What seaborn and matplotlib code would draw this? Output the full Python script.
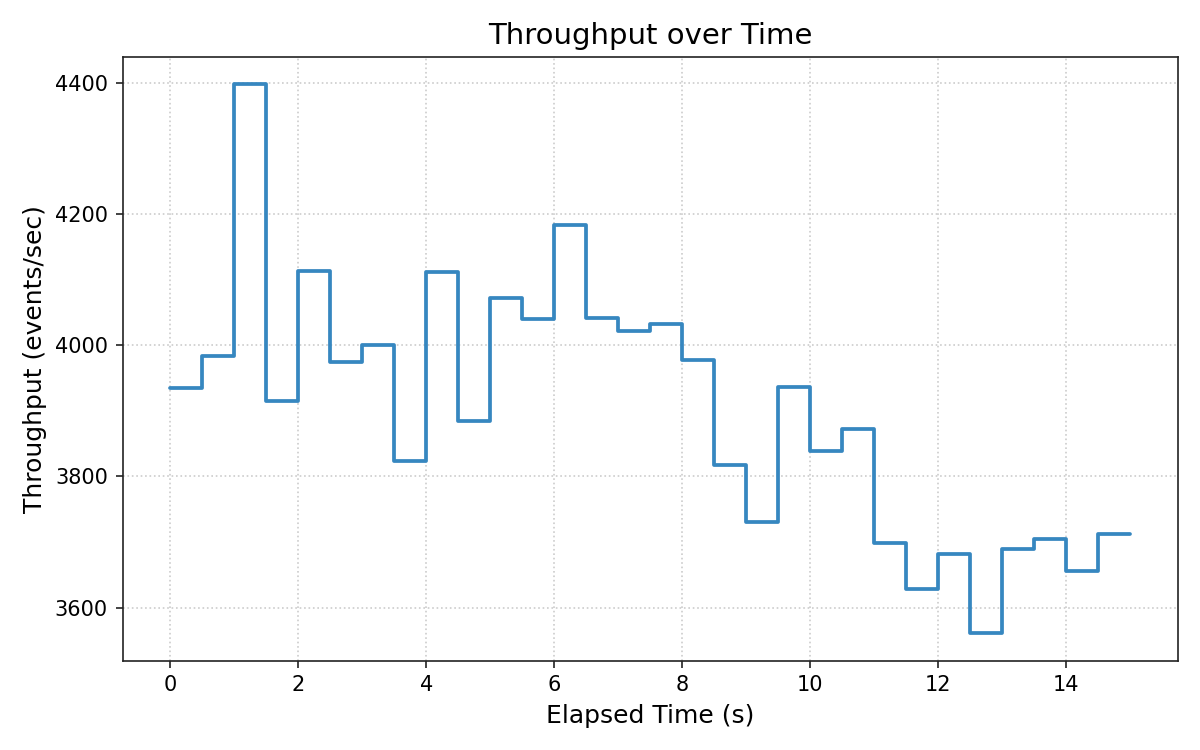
import matplotlib
matplotlib.use("Agg")
import matplotlib.pyplot as plt
import seaborn as sns
import pandas as pd

elapsed_time = [0.0, 0.5, 1.0, 1.5, 2.0, 2.5, 3.0, 3.5, 4.0, 4.5, 5.0, 5.5, 6.0, 6.5,
                7.0, 7.5, 8.0, 8.5, 9.0, 9.5, 10.0, 10.5, 11.0, 11.5, 12.0, 12.5,
                13.0, 13.5, 14.0, 14.5, 15.0]
throughput = [3935, 3984, 4398, 3915, 4114, 3974, 4001, 3824, 4112, 3884, 4072, 4040,
              4183, 4042, 4022, 4033, 3977, 3818, 3731, 3937, 3839, 3872, 3699, 3629,
              3682, 3561, 3689, 3705, 3656, 3712, 3712]

sns.set_style("ticks", {
    "axes.grid": True,
    "grid.linestyle": ":",
    "grid.color": "#cccccc",
    "axes.edgecolor": "#222222",
    "xtick.color": "#222222",
    "ytick.color": "#222222",
    "text.color": "black",
    "axes.labelcolor": "black",
})
plt.rcParams["font.family"] = ["DejaVu Sans"]
plt.rcParams["xtick.labelcolor"] = "black"
plt.rcParams["ytick.labelcolor"] = "black"

df = pd.DataFrame({"t": elapsed_time, "v": throughput})

fig, ax = plt.subplots(figsize=(8, 5), dpi=150)
sns.lineplot(data=df, x="t", y="v", ax=ax, drawstyle="steps-post",
             color="#3687c0", linewidth=1.8)
ax.grid(True, linestyle=":", color="#cccccc", linewidth=0.8)
ax.set_title("Throughput over Time", fontsize=14)
ax.set_xlabel("Elapsed Time (s)", fontsize=12)
ax.set_ylabel("Throughput (events/sec)", fontsize=12)
ax.tick_params(labelsize=10)
for s in ax.spines.values():
    s.set_visible(True)
fig.tight_layout()
fig.savefig("out.png", dpi=150)
